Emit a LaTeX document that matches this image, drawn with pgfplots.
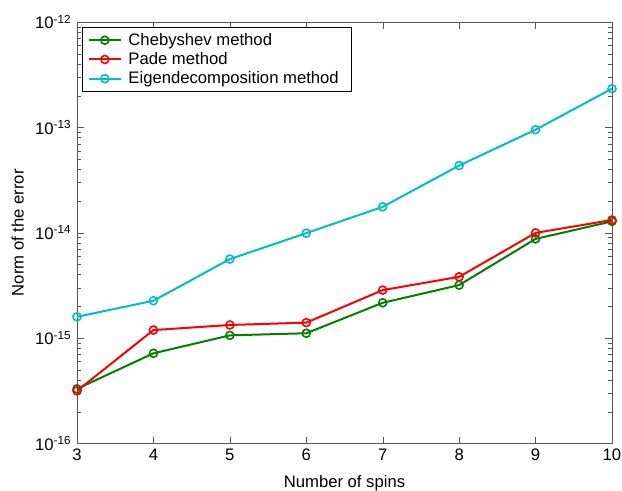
\documentclass[border=0pt]{standalone}
\usepackage{fontspec}
\setmainfont{Liberation Sans}
\usepackage{pgfplots}
\pgfplotsset{compat=1.18}

\definecolor{mgreen}{rgb}{0,0.5,0}
\definecolor{mred}{rgb}{1,0,0}
\definecolor{mcyan}{rgb}{0,0.75,0.75}
\definecolor{axgray}{gray}{0.35}

\begin{document}
\fontsize{12.5}{15}\selectfont
\begin{tikzpicture}
\begin{axis}[
    name=ax,
    width=401.25pt, height=316pt,
    scale only axis,
    ymode=log,
    xmin=3, xmax=10,
    ymin=1e-16, ymax=1e-12,
    xtick={3,...,10},
    ytick={1e-16,1e-15,1e-14,1e-13,1e-12},
    yticklabels={10\textsuperscript{-16},10\textsuperscript{-15},10\textsuperscript{-14},10\textsuperscript{-13},10\textsuperscript{-12}},
    /pgf/number format/assume math mode=true,
    tick align=inside,
    tick pos=both,
    axis line style={axgray},
    major tick style={axgray},
    minor tick style={axgray},
    major tick length=5pt,
    minor tick length=3pt,
    xlabel={Number of spins},
    ylabel={Norm of the error},
    xlabel style={yshift=-2pt},
    tick label style={font=\fontsize{12.5}{15}\selectfont},
    label style={font=\fontsize{12.5}{15}\selectfont},
    legend style={at={(0,1)}, anchor=north west, xshift=4pt, yshift=-4pt,
        draw=black, font=\fontsize{12.5}{15}\selectfont, row sep=-0.5pt,
        inner xsep=4pt, inner ysep=2pt,
        nodes={inner xsep=5pt}},
    legend cell align=left,
    legend image code/.code={
        \draw[mark repeat=2, mark phase=2] plot coordinates {(0cm,0cm) (0.42cm,0cm) (0.84cm,0cm)};
    },
    every axis plot/.append style={line width=1.5pt, mark=o, mark size=3pt, mark options={line width=1.2pt}},
]
\addplot[mgreen] coordinates {
    (3, 3.29e-16) (4, 7.16e-16) (5, 1.06e-15) (6, 1.11e-15)
    (7, 2.16e-15) (8, 3.18e-15) (9, 8.73e-15) (10, 1.28e-14)
};
\addplot[mred] coordinates {
    (3, 3.15e-16) (4, 1.19e-15) (5, 1.33e-15) (6, 1.40e-15)
    (7, 2.85e-15) (8, 3.81e-15) (9, 9.95e-15) (10, 1.32e-14)
};
\addplot[mcyan] coordinates {
    (3, 1.59e-15) (4, 2.26e-15) (5, 5.61e-15) (6, 9.9e-15)
    (7, 1.76e-14) (8, 4.34e-14) (9, 9.5e-14) (10, 2.33e-13)
};
\legend{Chebyshev method, Pade method, Eigendecomposition method}
\end{axis}
\pgfresetboundingbox
\path ([shift={(-57.75pt,-35.6pt)}]ax.south west) rectangle ([shift={(7.5pt,16.5pt)}]ax.north east);
\end{tikzpicture}
\end{document}
